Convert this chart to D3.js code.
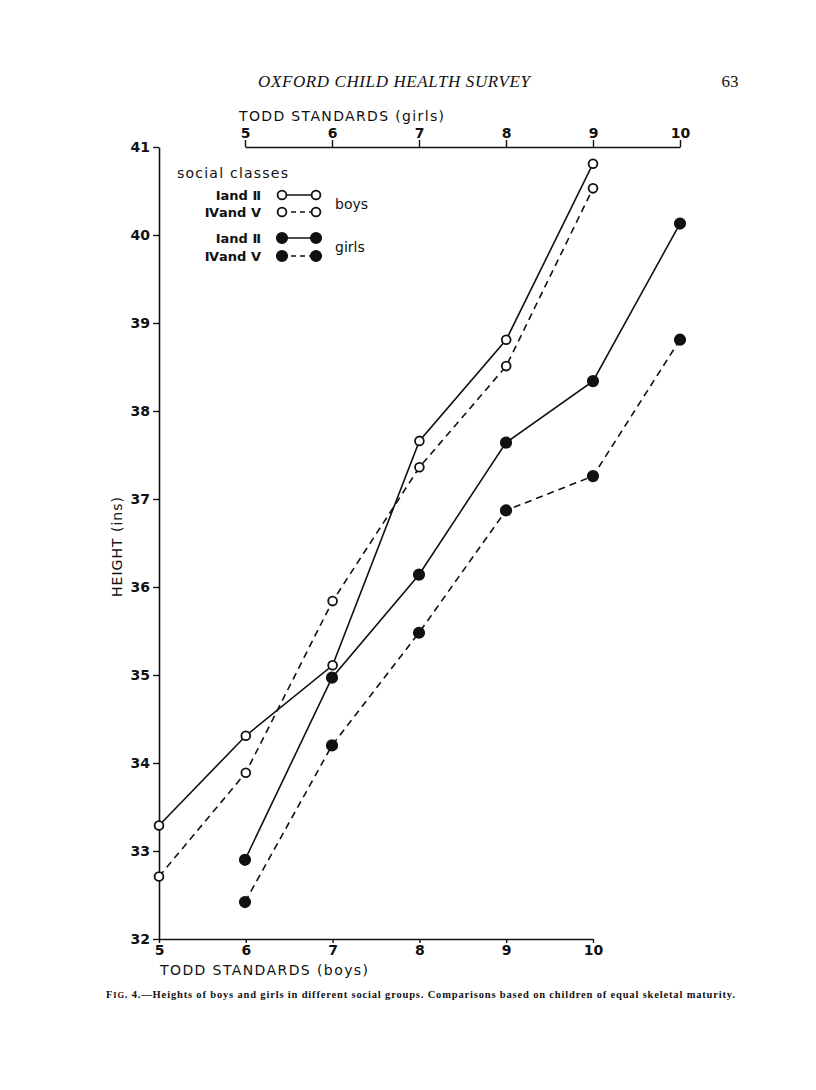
<!DOCTYPE html>
<html lang="en">
<head>
<meta charset="UTF-8">
<title>Oxford Child Health Survey - Fig. 4</title>
<script src="https://d3js.org/d3.v7.min.js"></script>
<style>
  body { margin: 0; background: #fff; }
  svg text { fill: #111; }
</style>
</head>
<body>
<div id="chart"></div>
<script>
    // tick labels
    var boysStandards = [5, 6, 7, 8, 9, 10];
    var girlsStandards = [5, 6, 7, 8, 9, 10];
    var heightTicks = [32, 33, 34, 35, 36, 37, 38, 39, 40, 41];

    // heights (ins), one per Todd standard
    var boysI_II = [33.29, 34.31, 35.11, 37.66, 38.81, 40.81];
    var boysIV_V = [32.71, 33.89, 35.84, 37.36, 38.51, 40.53];
    var girlsI_II = [32.90, 34.97, 36.14, 37.64, 38.34, 40.13];
    var girlsIV_V = [32.42, 34.20, 35.48, 36.87, 37.26, 38.81];

    var W = 816, H = 1090;
    var sans = "'DejaVu Sans', sans-serif";
    var serif = "'Liberation Serif', serif";

    var svg = d3.select("#chart").append("svg")
        .attr("width", W)
        .attr("height", H);

    // scales: boys standards along the bottom, girls standards along the top
    var xBoys = d3.scaleLinear().domain([5, 10]).range([159, 593]);
    var xGirls = d3.scaleLinear().domain([5, 10]).range([245, 680]);
    var y = d3.scaleLinear().domain([32, 41]).range([939, 147]);
    var fmt = d3.format("d");

    // page header
    svg.append("text")
        .attr("x", 394).attr("y", 87)
        .attr("text-anchor", "middle")
        .style("font-family", serif)
        .style("font-style", "italic")
        .style("font-size", "17px")
        .attr("textLength", 272)
        .text("OXFORD CHILD HEALTH SURVEY");
    svg.append("text")
        .attr("x", 730).attr("y", 87)
        .attr("text-anchor", "middle")
        .style("font-family", serif)
        .style("font-size", "17px")
        .text("63");

    // left axis
    var gy = svg.append("g")
        .attr("transform", "translate(" + xBoys(5) + ",0)")
        .call(d3.axisLeft(y).tickValues(heightTicks).tickFormat(fmt)
            .tickSize(6).tickSizeOuter(0).tickPadding(3));

    // bottom axis (boys)
    var gx = svg.append("g")
        .attr("transform", "translate(0," + y(32) + ")")
        .call(d3.axisBottom(xBoys).tickValues(boysStandards).tickFormat(fmt)
            .tickSize(4).tickSizeOuter(0).tickPadding(2));

    // top axis (girls)
    var gt = svg.append("g")
        .attr("transform", "translate(0," + y(41) + ")")
        .call(d3.axisTop(xGirls).tickValues(girlsStandards).tickFormat(fmt)
            .tickSize(7).tickSizeOuter(0).tickPadding(2));

    [gy, gx, gt].forEach(function(g) {
        g.select(".domain").attr("stroke", "#111").attr("stroke-width", 1.6);
        g.selectAll(".tick line").attr("stroke", "#111").attr("stroke-width", 1.4);
        g.selectAll(".tick text")
            .style("font-family", sans)
            .style("font-size", "14px")
            .style("font-weight", "bold")
            .attr("fill", "#111");
    });

    // axis titles
    svg.append("text")
        .attr("x", 160).attr("y", 975)
        .style("font-family", sans)
        .style("font-size", "14px")
        .attr("textLength", 208)
        .text("TODD STANDARDS (boys)");
    svg.append("text")
        .attr("x", 239).attr("y", 121)
        .style("font-family", sans)
        .style("font-size", "14px")
        .attr("textLength", 205)
        .text("TODD STANDARDS (girls)");
    svg.append("text")
        .attr("transform", "translate(122,547) rotate(-90)")
        .attr("text-anchor", "middle")
        .style("font-family", sans)
        .style("font-size", "14px")
        .attr("textLength", 100)
        .text("HEIGHT (ins)");

    // series
    var series = [
        {values: boysI_II, x: xBoys, dash: null, filled: false},
        {values: boysIV_V, x: xBoys, dash: "7,5", filled: false},
        {values: girlsI_II, x: xGirls, dash: null, filled: true},
        {values: girlsIV_V, x: xGirls, dash: "7,5", filled: true}
    ];

    series.forEach(function(s) {
        var pts = s.values.map(function(v, i) { return [s.x(boysStandards[i]), y(v)]; });
        var line = d3.line();
        svg.append("path")
            .attr("d", line(pts))
            .attr("fill", "none")
            .attr("stroke", "#111")
            .attr("stroke-width", 1.6)
            .attr("stroke-dasharray", s.dash);
        svg.selectAll(null)
            .data(pts)
            .enter()
            .append("circle")
            .attr("cx", d => d[0])
            .attr("cy", d => d[1])
            .attr("r", s.filled ? 5.2 : 4.4)
            .attr("fill", s.filled ? "#111" : "#fff")
            .attr("stroke", "#111")
            .attr("stroke-width", 1.8);
    });

    // legend
    var legend = svg.append("g");
    legend.append("text")
        .attr("x", 177).attr("y", 178)
        .style("font-family", sans)
        .style("font-size", "14px")
        .attr("textLength", 111)
        .text("social classes");

    var legendRows = [
        {label: "Ⅰand Ⅱ", y: 195, dash: null, filled: false},
        {label: "Ⅳand Ⅴ", y: 212, dash: "5,4", filled: false},
        {label: "Ⅰand Ⅱ", y: 238, dash: null, filled: true},
        {label: "Ⅳand Ⅴ", y: 256, dash: "5,4", filled: true}
    ];
    legendRows.forEach(function(r) {
        legend.append("text")
            .attr("x", 261).attr("y", r.y + 5)
            .attr("text-anchor", "end")
            .style("font-family", sans)
            .style("font-size", "13px")
            .style("font-weight", "bold")
            .text(r.label);
        legend.append("line")
            .attr("x1", 282).attr("x2", 316)
            .attr("y1", r.y).attr("y2", r.y)
            .attr("stroke", "#111")
            .attr("stroke-width", 1.6)
            .attr("stroke-dasharray", r.dash);
        [282, 316].forEach(function(cx) {
            legend.append("circle")
                .attr("cx", cx).attr("cy", r.y)
                .attr("r", r.filled ? 5.2 : 4.4)
                .attr("fill", r.filled ? "#111" : "#fff")
                .attr("stroke", "#111")
                .attr("stroke-width", 1.8);
        });
    });
    legend.append("text")
        .attr("x", 335).attr("y", 209)
        .style("font-family", sans)
        .style("font-size", "14px")
        .text("boys");
    legend.append("text")
        .attr("x", 335).attr("y", 252)
        .style("font-family", sans)
        .style("font-size", "14px")
        .text("girls");

    // caption
    var cap = svg.append("text")
        .attr("x", 106).attr("y", 998)
        .style("font-family", serif)
        .style("font-size", "10.5px")
        .style("font-weight", "bold")
        .attr("textLength", 629);
    cap.append("tspan").text("F");
    cap.append("tspan").style("font-size", "8.5px").text("IG");
    cap.append("tspan").text(". 4.—Heights of boys and girls in different social groups.  Comparisons based on children of equal skeletal maturity.");
</script>
</body>
</html>
